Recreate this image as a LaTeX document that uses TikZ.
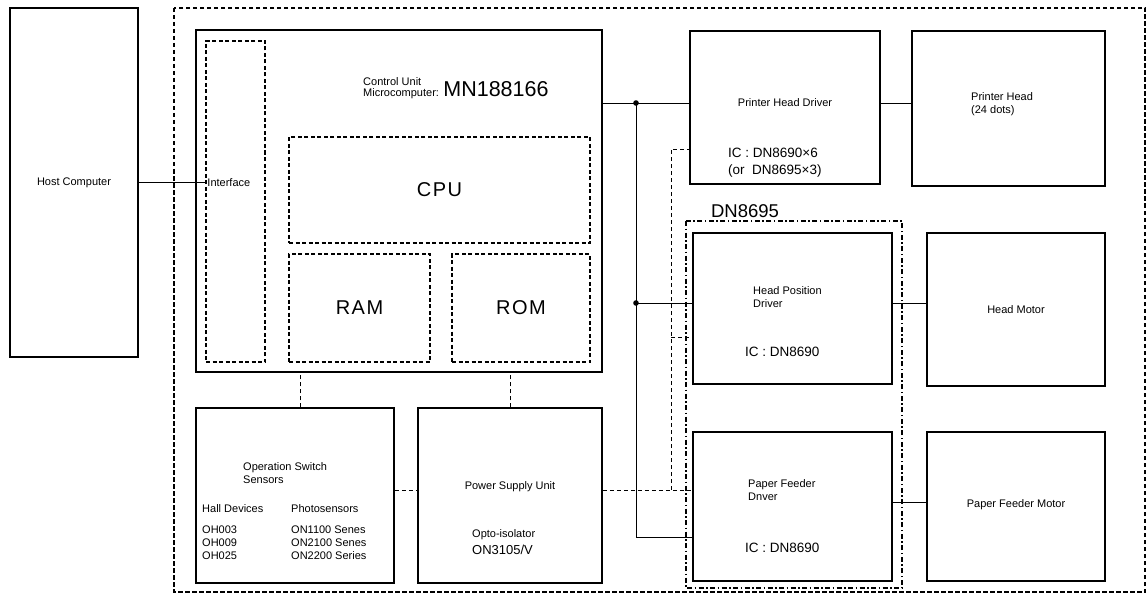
\documentclass[tikz,border=0pt]{standalone}
\usepackage{fontspec}
\setmainfont{Liberation Sans}
\usetikzlibrary{calc,positioning}

\begin{document}
\begin{tikzpicture}[x=1pt,y=-1pt,
  box/.style={draw, line width=1.5pt, inner sep=0pt},
  dbox/.style={draw, line width=1.5pt, inner sep=0pt, dash pattern=on 4pt off 2.5pt},
  wire/.style={line width=0.9pt},
  pwr/.style={line width=0.9pt, dash pattern=on 4pt off 3pt},
  txt/.style={font=\fontsize{11}{13}\selectfont, align=left, inner sep=0pt},
  ictxt/.style={font=\fontsize{13.5}{17.5}\selectfont, align=left, inner sep=0pt},
  big/.style={font=\fontsize{20}{22}\selectfont, inner sep=0pt}]

\useasboundingbox (0,0) rectangle (1147,596);

% Outer board frame
\draw[line width=1.3pt, dash pattern=on 4.5pt off 2.5pt] (174,8) rectangle (1145,592);

% Host side
\node[box, minimum width=128pt, minimum height=349pt] (host) at (74,182.5) {};
\node[txt] at (host.center) {Host Computer};

% Control unit with its inner blocks
\node[box, minimum width=406pt, minimum height=342pt] (ctrl) at (399,201) {};
\node[dbox, minimum width=59pt, minimum height=321pt] (iface) at (235.5,201.5) {};
\node[dbox, minimum width=301pt, minimum height=106pt] (cpu) at (439.5,190) {};
\node[dbox, minimum width=141pt, minimum height=108pt] (ram) at (359.5,308) {};
\node[dbox, minimum width=138pt, minimum height=108pt] (rom) at (521,308) {};

\node[txt, anchor=west] at ([xshift=2pt]iface.west |- host.east) {Interface};
\node[txt, anchor=west] (cu) at (363,82) {Control Unit};
\node[txt, anchor=west] (mc) at (363,94) {Microcomputer:};
\node[font=\fontsize{21.5}{24}\selectfont, inner sep=0pt, anchor=base west] at ($(mc.base east)+(4,0)$) {MN188166};
\node[big] at (cpu.center) {C\kern1.5pt P\kern1.5pt U};
\node[big] at (ram.center) {R\kern1.5pt A\kern1.5pt M};
\node[big] at (rom.center) {R\kern1.5pt O\kern1.5pt M};

% Sensors and power
\node[box, minimum width=198pt, minimum height=175pt] (oss) at (295,495.5) {};
\node[box, minimum width=184pt, minimum height=175pt] (psu) at (510,495.5) {};

\node[txt, anchor=west] at (243,473.5) {Operation Switch\\Sensors};
\node[txt, anchor=west] at (202,509) {Hall Devices};
\node[txt, anchor=west] at (291,509) {Photosensors};
\node[txt, anchor=north west] at (202,526) {OH003\\OH009\\OH025};
\node[txt, anchor=north west] at (291,526) {ON1100 Senes\\ON2100 Senes\\ON2200 Series};
\node[txt] at (510,487) {Power Supply Unit};
\node[txt, anchor=west] at (472,535) {Opto-isolator};
\node[font=\fontsize{13}{15}\selectfont, inner sep=0pt, anchor=west] at (472,550) {ON3105/V};

% Drivers
\node[box, minimum width=190pt, minimum height=153pt] (phd) at (785,107.5) {};
\node[box, minimum width=199pt, minimum height=151pt] (hpd) at (792.5,308.5) {};
\node[box, minimum width=199pt, minimum height=149pt] (pfd) at (792.5,506.5) {};
\draw[line width=1.4pt, dash pattern=on 5pt off 2.5pt on 1.5pt off 2.5pt] (686,221) rectangle (902,588);
\node[font=\fontsize{18.5}{20}\selectfont, inner sep=0pt] (dn) at (745,211) {DN8695};

\node[txt] at (785,103) {Printer Head Driver};
\node[ictxt, anchor=west] at (728,162.5) {IC\ :\ DN8690\texttimes6\\(or\ \ DN8695\texttimes3)};
\node[txt, anchor=west] at (753,297) {Head Position\\Driver};
\node[ictxt, anchor=west] at (745,352) {IC\ :\ DN8690};
\node[txt, anchor=west] at (748,490.5) {Paper Feeder\\Dnver};
\node[ictxt, anchor=west] at (745,548) {IC\ :\ DN8690};

% Loads
\node[box, minimum width=193pt, minimum height=155pt] (ph) at (1008.5,108.5) {};
\node[box, minimum width=178pt, minimum height=153pt] (hm) at (1016,309.5) {};
\node[box, minimum width=178pt, minimum height=149pt] (pfm) at (1016,506.5) {};
\node[txt, anchor=west] at (971,104.5) {Printer Head\\(24 dots)};
\node[txt] at (hm.center) {Head Motor};
\node[txt] at (1016,505) {Paper Feeder Motor};

% Signal bus
\coordinate (bus) at (636,103);
\coordinate (bus2) at (636,303);
\coordinate (bus3) at (636,537);
\draw[wire] (host.east) -- (host.east -| iface.west);
\draw[wire] (ctrl.east |- bus) -- (phd.west |- bus);
\draw[wire] (bus) -- (bus3) -- (bus3 -| pfd.west);
\draw[wire] (bus2) -- (bus2 -| hpd.west);
\fill (bus) circle (2.8pt);
\fill (bus2) circle (2.8pt);
\draw[wire] (phd.east |- bus) -- (ph.west |- bus);
\draw[wire] (hpd.east |- bus2) -- (hm.west |- bus2);
\draw[wire] ([yshift=4.5pt]pfd.east) -- ([yshift=4.5pt]pfm.west);

% Power lines
\coordinate (pw) at (671,490);
\draw[pwr] (oss.east |- pw) -- (psu.west |- pw);
\draw[pwr] (psu.east |- pw) -- (pfd.west |- pw);
\draw[pwr] (pw) -- (pw |- 0,149) -- (phd.west |- 0,149);
\draw[pwr] (pw |- 0,337) -- (hpd.west |- 0,337);
\draw[pwr] ([xshift=5pt]oss.north) -- ([xshift=5pt]oss.north |- ctrl.south);
\draw[pwr] (psu.north) -- (psu.north |- ctrl.south);

\end{tikzpicture}
\end{document}
